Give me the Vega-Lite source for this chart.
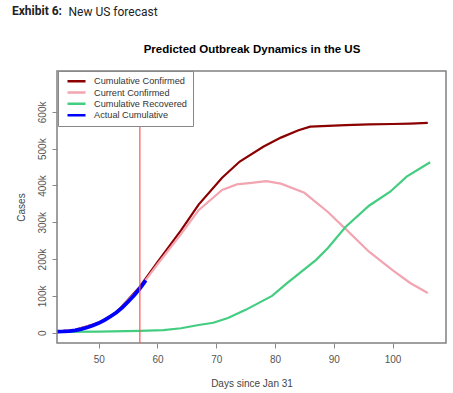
{
  "$schema": "https://vega.github.io/schema/vega-lite/v6.json",
  "width": 389,
  "height": 272,
  "autosize": "none",
  "padding": {"left": 57, "top": 71, "right": 7, "bottom": 50},
  "background": "white",
  "title": {
    "text": "Exhibit 6:",
    "anchor": "start",
    "frame": "group",
    "dx": -45,
    "offset": -12,
    "font": "Roboto",
    "fontSize": 12,
    "fontWeight": "bold",
    "color": "#222222"
  },
  "datasets": {
    "model": [
      {"day": 43, "cases": 3000, "series": "Cumulative Confirmed"},
      {"day": 46, "cases": 8000, "series": "Cumulative Confirmed"},
      {"day": 50, "cases": 27000, "series": "Cumulative Confirmed"},
      {"day": 53, "cases": 55000, "series": "Cumulative Confirmed"},
      {"day": 57, "cases": 125000, "series": "Cumulative Confirmed"},
      {"day": 60, "cases": 192000, "series": "Cumulative Confirmed"},
      {"day": 64, "cases": 278000, "series": "Cumulative Confirmed"},
      {"day": 67, "cases": 348000, "series": "Cumulative Confirmed"},
      {"day": 71, "cases": 421000, "series": "Cumulative Confirmed"},
      {"day": 74, "cases": 465000, "series": "Cumulative Confirmed"},
      {"day": 78, "cases": 505000, "series": "Cumulative Confirmed"},
      {"day": 81, "cases": 530000, "series": "Cumulative Confirmed"},
      {"day": 84, "cases": 550000, "series": "Cumulative Confirmed"},
      {"day": 86, "cases": 560000, "series": "Cumulative Confirmed"},
      {"day": 88, "cases": 561000, "series": "Cumulative Confirmed"},
      {"day": 92, "cases": 564000, "series": "Cumulative Confirmed"},
      {"day": 96, "cases": 566000, "series": "Cumulative Confirmed"},
      {"day": 100, "cases": 567000, "series": "Cumulative Confirmed"},
      {"day": 103, "cases": 568000, "series": "Cumulative Confirmed"},
      {"day": 106, "cases": 570000, "series": "Cumulative Confirmed"},
      {"day": 43, "cases": 3000, "series": "Current Confirmed"},
      {"day": 46, "cases": 8000, "series": "Current Confirmed"},
      {"day": 50, "cases": 26000, "series": "Current Confirmed"},
      {"day": 53, "cases": 54000, "series": "Current Confirmed"},
      {"day": 57, "cases": 122000, "series": "Current Confirmed"},
      {"day": 60, "cases": 186000, "series": "Current Confirmed"},
      {"day": 64, "cases": 268000, "series": "Current Confirmed"},
      {"day": 67, "cases": 333000, "series": "Current Confirmed"},
      {"day": 71, "cases": 388000, "series": "Current Confirmed"},
      {"day": 73.5, "cases": 403000, "series": "Current Confirmed"},
      {"day": 76, "cases": 407000, "series": "Current Confirmed"},
      {"day": 78.5, "cases": 412000, "series": "Current Confirmed"},
      {"day": 81, "cases": 405000, "series": "Current Confirmed"},
      {"day": 85, "cases": 380000, "series": "Current Confirmed"},
      {"day": 89, "cases": 328000, "series": "Current Confirmed"},
      {"day": 92, "cases": 282000, "series": "Current Confirmed"},
      {"day": 96, "cases": 220000, "series": "Current Confirmed"},
      {"day": 100, "cases": 170000, "series": "Current Confirmed"},
      {"day": 103, "cases": 135000, "series": "Current Confirmed"},
      {"day": 106, "cases": 108000, "series": "Current Confirmed"},
      {"day": 43, "cases": 2000, "series": "Cumulative Recovered"},
      {"day": 50, "cases": 3000, "series": "Cumulative Recovered"},
      {"day": 57, "cases": 5000, "series": "Cumulative Recovered"},
      {"day": 61, "cases": 7000, "series": "Cumulative Recovered"},
      {"day": 64, "cases": 12000, "series": "Cumulative Recovered"},
      {"day": 67, "cases": 21000, "series": "Cumulative Recovered"},
      {"day": 69.5, "cases": 27000, "series": "Cumulative Recovered"},
      {"day": 72, "cases": 40000, "series": "Cumulative Recovered"},
      {"day": 75, "cases": 62000, "series": "Cumulative Recovered"},
      {"day": 79.5, "cases": 100000, "series": "Cumulative Recovered"},
      {"day": 82, "cases": 134000, "series": "Cumulative Recovered"},
      {"day": 87, "cases": 198000, "series": "Cumulative Recovered"},
      {"day": 89, "cases": 230000, "series": "Cumulative Recovered"},
      {"day": 92, "cases": 287000, "series": "Cumulative Recovered"},
      {"day": 96, "cases": 345000, "series": "Cumulative Recovered"},
      {"day": 99.6, "cases": 383000, "series": "Cumulative Recovered"},
      {"day": 102.4, "cases": 424000, "series": "Cumulative Recovered"},
      {"day": 106.4, "cases": 463000, "series": "Cumulative Recovered"}
    ],
    "actual": [
      {"day": 43, "cases": 3000, "series": "Actual Cumulative"},
      {"day": 44, "cases": 3500, "series": "Actual Cumulative"},
      {"day": 45, "cases": 4500, "series": "Actual Cumulative"},
      {"day": 46, "cases": 6500, "series": "Actual Cumulative"},
      {"day": 47, "cases": 9500, "series": "Actual Cumulative"},
      {"day": 48, "cases": 14000, "series": "Actual Cumulative"},
      {"day": 49, "cases": 19500, "series": "Actual Cumulative"},
      {"day": 50, "cases": 26000, "series": "Actual Cumulative"},
      {"day": 51, "cases": 34000, "series": "Actual Cumulative"},
      {"day": 52, "cases": 44000, "series": "Actual Cumulative"},
      {"day": 53, "cases": 55000, "series": "Actual Cumulative"},
      {"day": 54, "cases": 68000, "series": "Actual Cumulative"},
      {"day": 55, "cases": 84000, "series": "Actual Cumulative"},
      {"day": 56, "cases": 101000, "series": "Actual Cumulative"},
      {"day": 57, "cases": 120000, "series": "Actual Cumulative"},
      {"day": 58, "cases": 142000, "series": "Actual Cumulative"}
    ],
    "marker": [{"day": 57}]
  },
  "layer": [
    {
      "data": {"name": "model"},
      "mark": {"type": "line", "strokeWidth": 2.2, "clip": true},
      "encoding": {
        "x": {
          "field": "day", "type": "quantitative",
          "scale": {"domain": [42.9, 109.1], "nice": false, "zero": false},
          "axis": {
            "values": [50, 60, 70, 80, 90, 100],
            "title": "Days since Jan 31",
            "grid": false, "domain": false,
            "tickSize": 5, "tickColor": "#888888", "tickWidth": 1,
            "labelPadding": 6, "titlePadding": 14,
            "labelFont": "Liberation Sans", "titleFont": "Liberation Sans",
            "labelFontSize": 10, "titleFontSize": 10, "titleFontWeight": "normal",
            "labelColor": "#555555", "titleColor": "#444444"
          }
        },
        "y": {
          "field": "cases", "type": "quantitative",
          "scale": {"domain": [-28000, 711000], "nice": false, "zero": false},
          "axis": {
            "values": [0, 100000, 200000, 300000, 400000, 500000, 600000],
            "labelExpr": "datum.value == 0 ? '0' : (datum.value / 1000) + 'k'",
            "title": "Cases",
            "grid": false, "domain": false,
            "tickSize": 5, "tickColor": "#888888", "tickWidth": 1,
            "labelAngle": -90, "labelAlign": "center", "labelBaseline": "bottom",
            "labelPadding": 5, "titlePadding": 11,
            "labelFont": "Liberation Sans", "titleFont": "Liberation Sans",
            "labelFontSize": 10, "titleFontSize": 10, "titleFontWeight": "normal",
            "labelColor": "#555555", "titleColor": "#444444"
          }
        },
        "color": {
          "field": "series", "type": "nominal",
          "scale": {
            "domain": ["Cumulative Confirmed", "Current Confirmed", "Cumulative Recovered", "Actual Cumulative"],
            "range": ["#8B0000", "#F2A5B1", "#43CD80", "#0000FF"]
          },
          "sort": ["Cumulative Confirmed", "Current Confirmed", "Cumulative Recovered", "Actual Cumulative"],
          "legend": {
            "orient": "none", "legendX": 1, "legendY": 0,
            "title": null,
            "symbolType": "stroke", "symbolSize": 324, "symbolStrokeWidth": 2.5,
            "symbolOffset": 2.5, "clipHeight": 9.5,
            "labelFont": "Liberation Sans", "labelFontSize": 9.2, "labelColor": "#333333",
            "labelOffset": 7, "rowPadding": 1.3,
            "padding": 5.5, "strokeColor": "#888888", "fillColor": "white",
            "cornerRadius": 0
          }
        },
        "order": {"field": "day", "type": "quantitative"}
      }
    },
    {
      "data": {"name": "actual"},
      "mark": {"type": "line", "strokeWidth": 3.8, "clip": true},
      "encoding": {
        "x": {
          "field": "day", "type": "quantitative",
          "axis": {
            "orient": "top", "labels": false, "ticks": false, "domain": false, "grid": false,
            "minExtent": 0,
            "title": "New US forecast",
            "titleFont": "Roboto", "titleFontSize": 12, "titleFontWeight": "normal",
            "titleColor": "#222222",
            "titleX": 11, "titleY": -55.3, "titleAlign": "left", "titleAngle": 0,
            "titleBaseline": "alphabetic"
          }
        },
        "y": {"field": "cases", "type": "quantitative", "title": "Cases"},
        "color": {"field": "series", "type": "nominal"}
      }
    },
    {
      "data": {"name": "marker"},
      "mark": {"type": "rule", "color": "#FF5555", "strokeWidth": 1.2},
      "encoding": {
        "x": {
          "field": "day", "type": "quantitative",
          "axis": {
            "orient": "top", "labels": false, "ticks": false, "domain": false, "grid": false,
            "minExtent": 0,
            "title": "Predicted Outbreak Dynamics in the US",
            "titleFont": "Liberation Sans", "titleFontSize": 11.5, "titleFontWeight": "bold",
            "titleColor": "#000000", "titlePadding": 19, "titleBaseline": "alphabetic"
          }
        }
      }
    }
  ],
  "resolve": {"axis": {"x": "independent"}},
  "config": {
    "view": {"stroke": "#808080", "strokeWidth": 1.5}
  }
}
